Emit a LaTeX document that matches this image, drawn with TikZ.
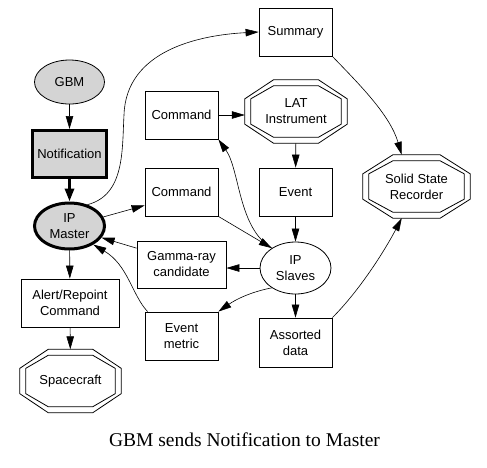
\documentclass[tikz,border=0pt]{standalone}
\usepackage{fontspec}
\setmainfont{Liberation Serif}
\setsansfont{Liberation Sans}
\usetikzlibrary{arrows.meta,shapes.geometric,calc}
% octagon outline round a node, #2 = inset
\newcommand{\octline}[2]{%
  \draw[line width=0.8pt] let \p1=(#1.south west), \p2=(#1.north east),
    \n1={0.28*(\x2-\x1)}, \n2={0.3*(\y2-\y1)} in
    (\x1+#2pt,\y1+\n2) -- (\x1+#2pt,\y2-\n2) -- (\x1+\n1,\y2-#2pt) -- (\x2-\n1,\y2-#2pt)
    -- (\x2-#2pt,\y2-\n2) -- (\x2-#2pt,\y1+\n2) -- (\x2-\n1,\y1+#2pt) -- (\x1+\n1,\y1+#2pt) -- cycle;}
\newcommand{\docta}[1]{\octline{#1}{0}\octline{#1}{6}}

\begin{document}
\begin{tikzpicture}[x=1pt,y=-1pt,
  lbl/.style={font=\sffamily\fontsize{13}{16}\selectfont,align=center,inner sep=0pt},
  box/.style={lbl,draw,line width=0.8pt,minimum width=73,minimum height=48},
  oval/.style={lbl,ellipse,draw,line width=0.8pt,fill=black!17},
  octa/.style={lbl,minimum width=102,minimum height=63},
  arr/.style={line width=0.6pt,-{Triangle[length=13pt,width=7.5pt]}},
  fat/.style={line width=3pt,-{Triangle[length=13pt,width=9pt]}}]
  \useasboundingbox (0,0) rectangle (487,467);
  % left column
  \node[oval,minimum width=70,minimum height=44] (gbm) at (69.5,82) {GBM};
  \node[box,line width=3pt,fill=black!17,minimum width=74,minimum height=47] (notif) at (69.5,154) {Notification};
  \node[oval,line width=3pt,minimum width=70,minimum height=46] (master) at (69.5,226) {IP\\Master};
  \node[box,minimum width=98] (alert) at (70,303) {Alert/Repoint\\Command};
  \node[octa,minimum width=101,minimum height=63] (craft) at (70.5,381) {Spacecraft};
  \docta{craft}
  % middle column
  \node[box] (cmda) at (181.5,115) {Command};
  \node[box] (cmdb) at (181.5,192) {Command};
  \node[box,minimum width=89,minimum height=47] (gamma) at (181.5,264.5) {Gamma-ray\\candidate};
  \node[box] (evmetric) at (181.5,336) {Event\\metric};
  % right column
  \node[box] (summary) at (295.5,32) {Summary};
  \node[octa] (lat) at (296,111.5) {LAT\\Instrument};
  \docta{lat}
  \node[box] (event) at (295.5,192) {Event};
  \node[oval,fill=none,minimum width=71,minimum height=52] (slaves) at (295.5,268) {IP\\Slaves};
  \node[box,minimum height=49] (assorted) at (295.5,342.5) {Assorted\\data};
  \node[octa,minimum width=107] (ssr) at (416.5,186.5) {Solid State\\Recorder};
  \docta{ssr}
  \node[font=\rmfamily\fontsize{19.5}{22}\selectfont] (cap) at (244.5,440) {GBM sends Notification to Master};
  % connectors
  \draw[arr] (gbm) -- (notif);
  \draw[fat] (notif) -- (master);
  \draw[arr] (master) -- (alert);
  \draw[arr] (alert) -- (craft);
  \draw[arr] (master.50) .. controls (125,195) and (122,150) .. (124,115)
    .. controls (126,50) and (200,35) .. (summary.west);
  \draw[arr] (master.15) -- (cmdb.200);
  \draw[arr] (cmda.east) -- (cmda.east -| lat.west);
  \draw[arr] (lat) -- (event);
  \draw[arr] (event) -- (slaves);
  \draw[arr] (slaves.140) .. controls (238,228) and (240,170) .. (cmda.south east);
  \draw[arr] (cmdb.south east) -- (slaves.140);
  \draw[arr] (slaves.west) -- (slaves.west -| gamma.east);
  \draw[arr] (slaves.220) .. controls (250,292) and (235,300) .. (evmetric.north east);
  \draw[arr] (gamma.160) -- (master.-20);
  \draw[arr] ($(evmetric.north west)+(3,0)$) .. controls (132,295) and (128,265) .. (master.-38);
  \draw[arr] (slaves) -- (assorted);
  \draw[arr] (summary.south east) .. controls (360,85) and (390,115) .. (ssr.115);
  \draw[arr] (assorted.north east) .. controls (360,290) and (385,250) .. (ssr.-115);
\end{tikzpicture}
\end{document}
